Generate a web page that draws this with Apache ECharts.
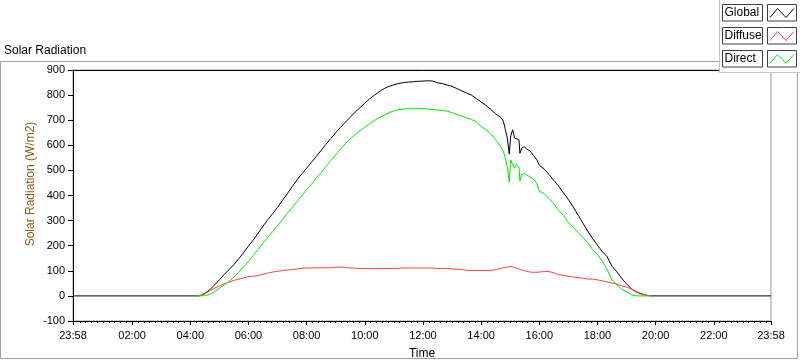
<!DOCTYPE html>
<html>
<head>
<meta charset="utf-8">
<script src="https://cdn.jsdelivr.net/npm/echarts@6/dist/echarts.min.js"></script>
<style>
html,body{margin:0;padding:0;background:#fff;}
#chart{width:800px;height:361px;}
</style>
</head>
<body>
<div id="chart"></div>
<script>
// Minutes since midnight (-2 = 23:58 of previous day, 1438 = 23:58)
const times = [-2,
 250,260,270,280,290,300,310,320,330,340,
 350,360,370,380,390,400,410,420,430,440,
 450,460,470,480,490,500,510,520,530,540,
 550,560,570,580,590,600,610,620,630,640,
 650,660,670,680,690,700,710,720,730,740,
 750,760,770,780,790,800,810,820,830,840,
 850,860,870,880,
 886,890,894,898,901,905,909,913,918,920,924,929,934,941,948,955,960,
 970,980,990,1000,1010,1020,1030,1040,1050,1060,1070,1080,1090,1100,1110,1120,1130,1140,1150,1160,1170,1180,1190,
 1438];

const globalVals = [0,
 0,1,10,24,44,64,85,105,125,148,
 172,199,223,250,278,304,328,353,380,407,
 435,462,486,509,532,556,580,604,627,650,
 672,692,712,732,750,768,785,800,814,826,
 835,841,846,850,852,853,855,856,857,856,
 849,846,840,835,826,817,808,800,786,773,
 759,743,725,712,
 696,662,629,565,637,662,629,636,622,568,589,595,585,578,559,542,520,
 506,484,460,437,410,384,354,322,290,258,228,202,176,156,118,96,70,48,28,16,8,3,0,
 0];

const diffuseVals = [null,
 0,1,8,21,31,40,48,55,62,67,
 71,77,78,81,86,91,95,98,101,103,
 105,107,110,111,111,112,112,112,112,114,
 115,114,111,111,109,109,109,109,109,109,
 109,109,110,111,111,111,111,111,111,111,
 109,109,109,107,107,105,102,101,101,101,
 101,101,105,109,
 112,115,115,118,117,115,113,109,107,105,103,101,98,95,94,94,95,
 97,97,92,84,82,78,75,73,70,67,67,64,60,56,51,47,40,35,27,17,8,3,0,
 null];

const directVals = [null,
 0,0,1,6,17,31,44,58,75,94,
 116,138,162,185,210,233,257,280,304,329,
 352,376,399,423,445,470,492,516,539,562,
 585,607,626,642,659,672,685,699,710,720,
 730,737,742,745,745,746,747,746,745,743,
 740,739,736,730,723,716,710,703,693,676,
 662,645,622,595,
 575,548,515,454,542,548,508,524,515,457,484,488,481,474,465,448,417,
 408,387,367,340,320,293,273,253,233,212,185,165,138,105,64,44,27,17,4,0,0,0,0,
 null];

const seriesNames = ['Global','Diffuse','Direct'];
const seriesColors = ['#000000','#ff4040','#00e800'];
const xLabelValues = [-2,120,240,360,480,600,720,840,960,1080,1200,1320,1438];

const minorTicks = [];
for (let m = 12; m < 1438; m += 12) { if (m % 120 !== 0) minorTicks.push(m); }

function fmt(v){
  const m = ((Math.round(v) % 1440) + 1440) % 1440;
  const h = Math.floor(m/60), mm = m % 60;
  return String(h).padStart(2,'0') + ':' + String(mm).padStart(2,'0');
}

const valueSets = [globalVals, diffuseVals, directVals];
const series = seriesNames.map((n,k)=>({
  name:n, type:'line', xAxisIndex:0, yAxisIndex:0,
  showSymbol:false, symbol:'none', silent:true, connectNulls:false,
  lineStyle:{color:seriesColors[k], width:1},
  itemStyle:{color:seriesColors[k]},
  data: times.map((t,i)=>[t, valueSets[k][i]])
}));

const graphic = [
  {type:'rect', z:0, silent:true, shape:{x:0.5,y:61.5,width:797,height:297}, style:{fill:null, stroke:'#a0a0a0', lineWidth:1}},
  {type:'line', z:50, silent:true, shape:{x1:73,y1:70.5,x2:772,y2:70.5}, style:{stroke:'#000', lineWidth:1}},
  {type:'rect', z:60, silent:true, shape:{x:719.5,y:-1,width:81,height:73.5}, style:{fill:'#fff', stroke:'#c4c4c4', lineWidth:1}}
];
seriesNames.forEach((n,i)=>{
  const y0 = 4 + 23*i;
  graphic.push({type:'rect', z:61, silent:true, shape:{x:722.5,y:y0+0.5,width:40,height:16.5}, style:{fill:'#fff', stroke:'#404040', lineWidth:1}});
  graphic.push({type:'text', z:62, silent:true, x:724.5, y:y0+9, style:{text:n, fill:'#000', font:'12px "Liberation Sans", Arial, sans-serif', textVerticalAlign:'middle', textAlign:'left'}});
  graphic.push({type:'rect', z:61, silent:true, shape:{x:767.5,y:y0+0.5,width:29,height:16.5}, style:{fill:'#fff', stroke:'#404040', lineWidth:1}});
  graphic.push({type:'polyline', z:62, silent:true, shape:{points:[[770,y0+13.5],[777.5,y0+4.5],[786,y0+13.5],[794,y0+4.5]]}, style:{stroke:seriesColors[i], lineWidth:1, fill:null}});
});

const chart = echarts.init(document.getElementById('chart'), null, {renderer:'canvas'});
chart.setOption({
  animation:false,
  backgroundColor:'#fff',
  textStyle:{fontFamily:'"Liberation Sans", Arial, sans-serif'},
  title:{text:'Solar Radiation', left:4, top:45, padding:0, textStyle:{fontSize:12, fontWeight:'normal', color:'#000'}},
  grid:{left:73, right:29, top:70, bottom:40, show:true, borderColor:'#9a9a9a', borderWidth:1, backgroundColor:'#fff', outerBoundsMode:'none', containLabel:false},
  xAxis:[
    {type:'value', min:-2, max:1438, name:'Time', nameLocation:'middle', nameGap:27, nameMoveOverlap:false,
     nameTextStyle:{color:'#000', fontSize:12},
     axisLine:{show:true, onZero:false, lineStyle:{color:'#000'}},
     axisTick:{show:true, customValues:xLabelValues, length:4, lineStyle:{color:'#000'}},
     axisLabel:{customValues:xLabelValues, formatter:fmt, color:'#000', fontSize:11, margin:9, showMinLabel:true, showMaxLabel:true, hideOverlap:false},
     splitLine:{show:false}},
    {type:'value', min:-2, max:1438, position:'bottom',
     axisLine:{show:false, onZero:false},
     axisTick:{show:true, customValues:minorTicks, length:2, lineStyle:{color:'#000'}},
     axisLabel:{show:false}, splitLine:{show:false}}
  ],
  yAxis:{type:'value', min:-100, max:900, interval:100,
    name:'Solar Radiation (W/m2)', nameLocation:'middle', nameGap:36, nameMoveOverlap:false,
    nameTextStyle:{color:'#8a5a1a', fontSize:12, padding:[0,0,0,23]},
    axisLine:{show:true, onZero:false, lineStyle:{color:'#000'}},
    axisTick:{show:true, length:5, lineStyle:{color:'#000'}},
    axisLabel:{color:'#000', fontSize:11, margin:8},
    splitLine:{show:false}},
  series: series,
  graphic: graphic
});
</script>
</body>
</html>
